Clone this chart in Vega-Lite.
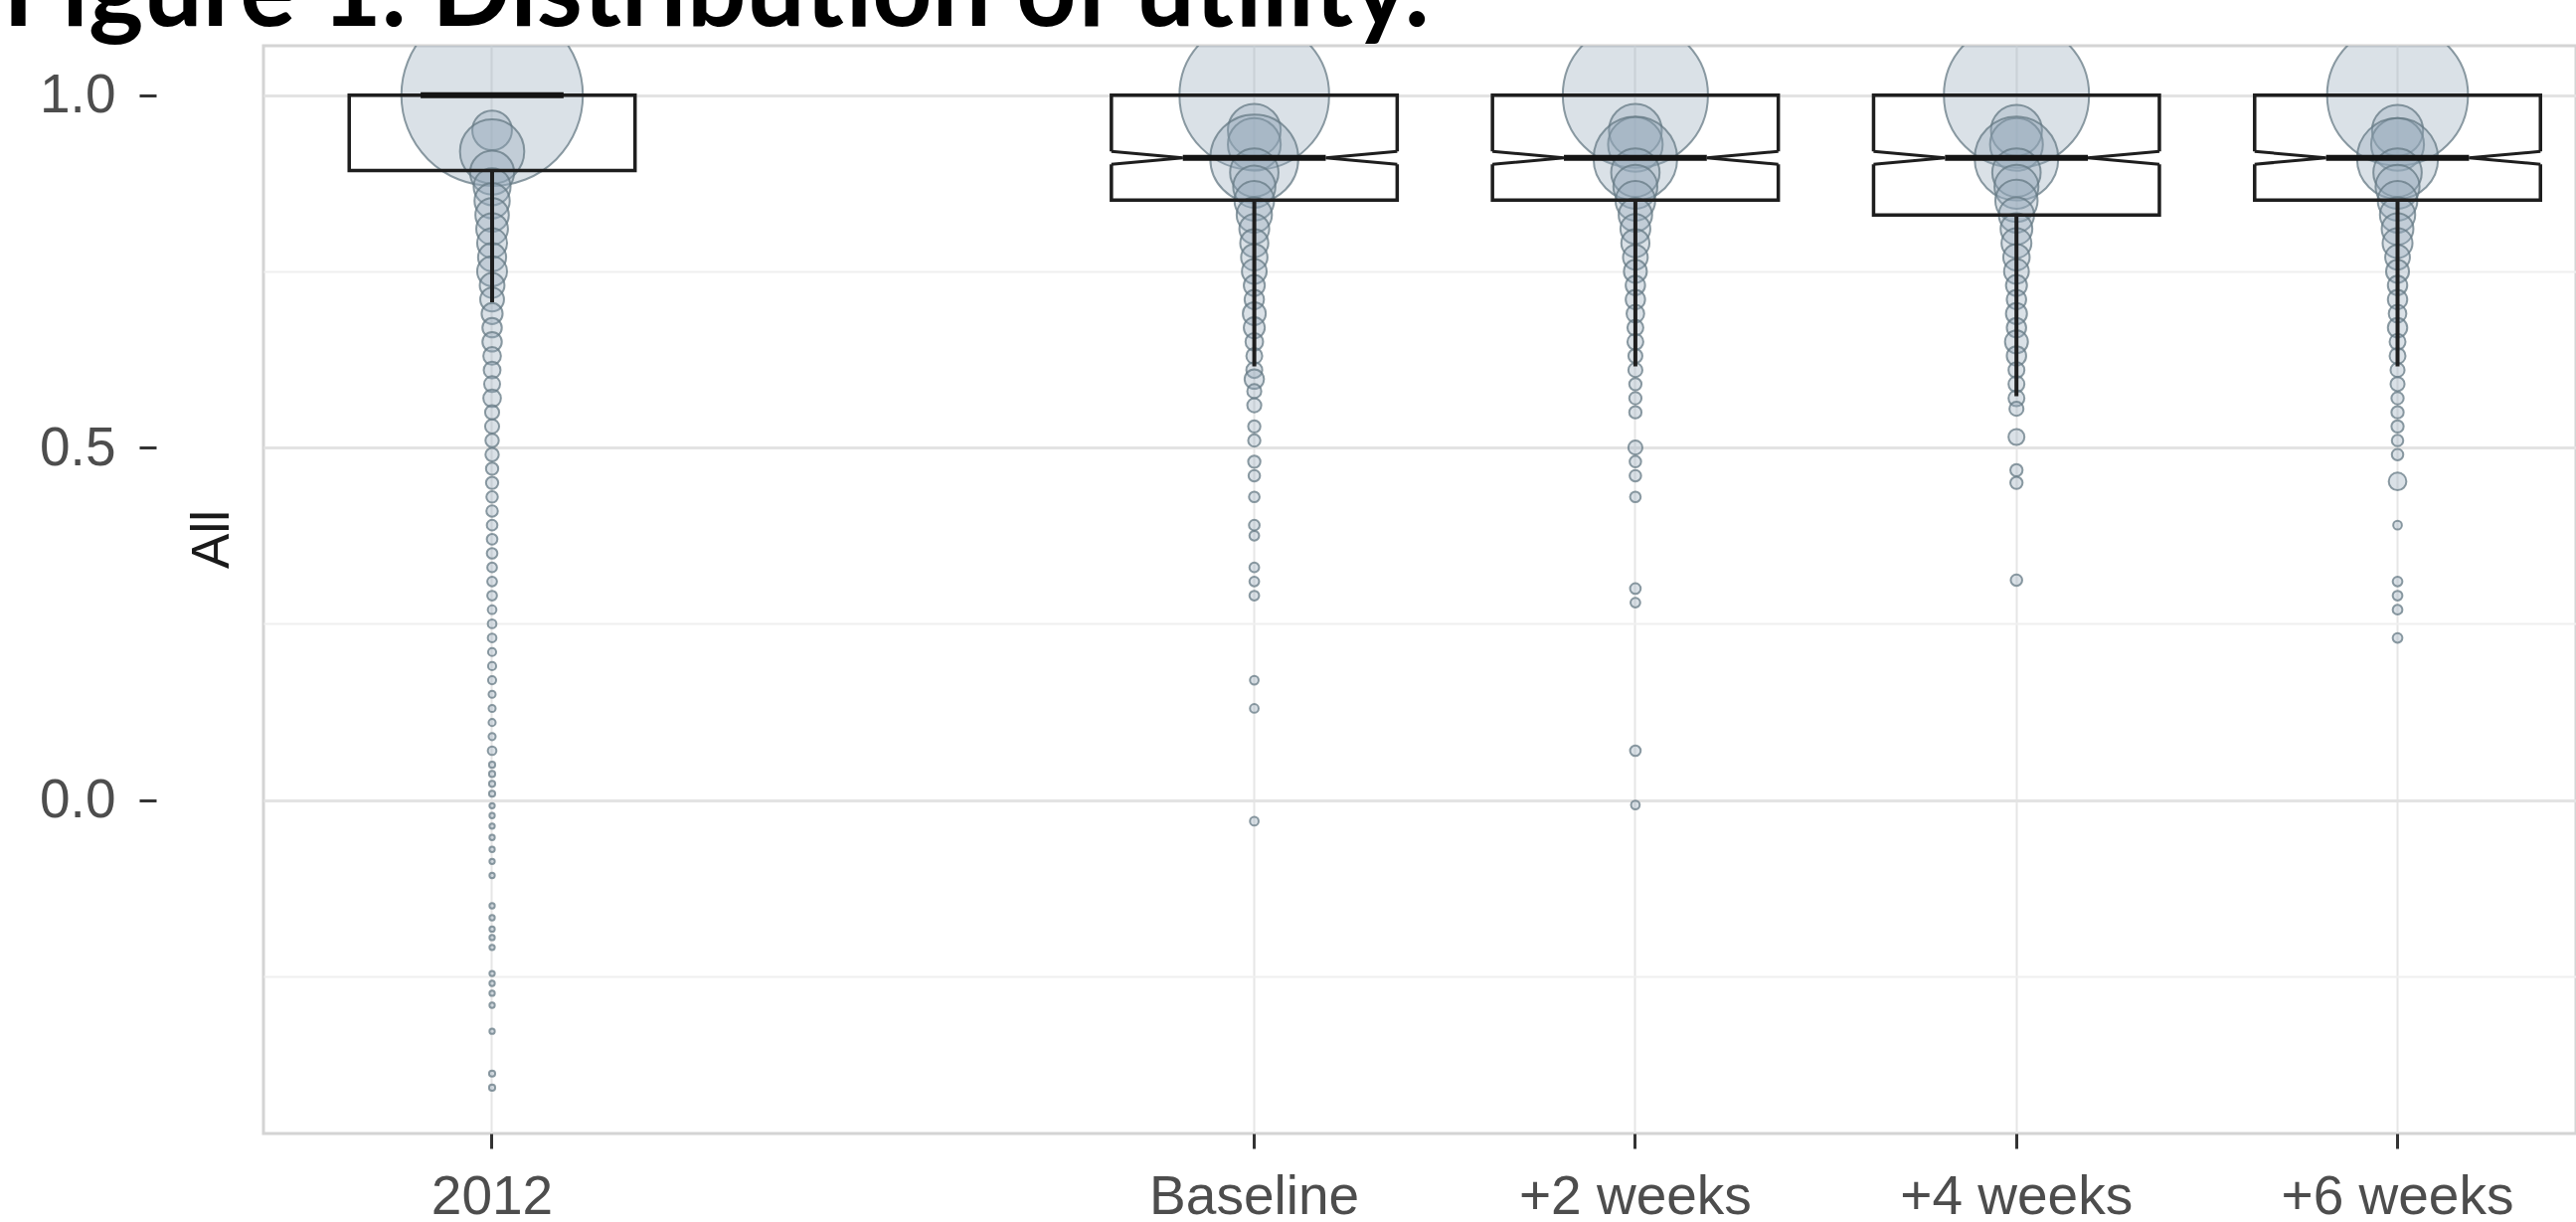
{
  "$schema": "https://vega.github.io/schema/vega-lite/v6.json",
  "width": 2326,
  "height": 1094,
  "autosize": {"type": "none"},
  "padding": {"left": 265, "top": 46, "right": 0, "bottom": 89},
  "background": "white",
  "config": {"view": {"stroke": "#d4d4d4", "strokeWidth": 3}, "font": "Liberation Sans"},
  "title": {
    "text": "Figure 1. Distribution of utility.",
    "anchor": "start",
    "frame": "group",
    "font": "Lato",
    "fontSize": 105,
    "fontWeight": "bold",
    "color": "#000000",
    "baseline": "alphabetic",
    "offset": 25,
    "dx": -262,
    "dy": 110
  },
  "datasets": {
    "pts": [
      {"group": "2012", "utility": 1.0, "prop": 0.35},
      {"group": "2012", "utility": 0.95, "prop": 0.0167},
      {"group": "2012", "utility": 0.92, "prop": 0.0439},
      {"group": "2012", "utility": 0.89, "prop": 0.0206},
      {"group": "2012", "utility": 0.87, "prop": 0.0145},
      {"group": "2012", "utility": 0.85, "prop": 0.0132},
      {"group": "2012", "utility": 0.83, "prop": 0.0119},
      {"group": "2012", "utility": 0.81, "prop": 0.0107},
      {"group": "2012", "utility": 0.79, "prop": 0.0095},
      {"group": "2012", "utility": 0.77, "prop": 0.0084},
      {"group": "2012", "utility": 0.75, "prop": 0.0095},
      {"group": "2012", "utility": 0.73, "prop": 0.0065},
      {"group": "2012", "utility": 0.71, "prop": 0.006},
      {"group": "2012", "utility": 0.69, "prop": 0.0047},
      {"group": "2012", "utility": 0.67, "prop": 0.004},
      {"group": "2012", "utility": 0.65, "prop": 0.004},
      {"group": "2012", "utility": 0.63, "prop": 0.0033},
      {"group": "2012", "utility": 0.61, "prop": 0.003},
      {"group": "2012", "utility": 0.59, "prop": 0.0027},
      {"group": "2012", "utility": 0.57, "prop": 0.0033},
      {"group": "2012", "utility": 0.55, "prop": 0.0021},
      {"group": "2012", "utility": 0.53, "prop": 0.0021},
      {"group": "2012", "utility": 0.51, "prop": 0.0019},
      {"group": "2012", "utility": 0.49, "prop": 0.0019},
      {"group": "2012", "utility": 0.47, "prop": 0.0016},
      {"group": "2012", "utility": 0.45, "prop": 0.0016},
      {"group": "2012", "utility": 0.43, "prop": 0.0014},
      {"group": "2012", "utility": 0.41, "prop": 0.0014},
      {"group": "2012", "utility": 0.39, "prop": 0.0012},
      {"group": "2012", "utility": 0.37, "prop": 0.0012},
      {"group": "2012", "utility": 0.35, "prop": 0.0012},
      {"group": "2012", "utility": 0.33, "prop": 0.001},
      {"group": "2012", "utility": 0.31, "prop": 0.001},
      {"group": "2012", "utility": 0.29, "prop": 0.001},
      {"group": "2012", "utility": 0.27, "prop": 0.0008},
      {"group": "2012", "utility": 0.25, "prop": 0.0008},
      {"group": "2012", "utility": 0.23, "prop": 0.0008},
      {"group": "2012", "utility": 0.21, "prop": 0.0007},
      {"group": "2012", "utility": 0.19, "prop": 0.0007},
      {"group": "2012", "utility": 0.17, "prop": 0.0007},
      {"group": "2012", "utility": 0.15, "prop": 0.00053},
      {"group": "2012", "utility": 0.13, "prop": 0.00053},
      {"group": "2012", "utility": 0.11, "prop": 0.00053},
      {"group": "2012", "utility": 0.09, "prop": 0.00053},
      {"group": "2012", "utility": 0.07, "prop": 0.0008},
      {"group": "2012", "utility": 0.05, "prop": 0.0004},
      {"group": "2012", "utility": 0.037, "prop": 0.0004},
      {"group": "2012", "utility": 0.023, "prop": 0.0004},
      {"group": "2012", "utility": 0.009, "prop": 0.0004},
      {"group": "2012", "utility": -0.008, "prop": 0.0003},
      {"group": "2012", "utility": -0.022, "prop": 0.0003},
      {"group": "2012", "utility": -0.037, "prop": 0.0003},
      {"group": "2012", "utility": -0.053, "prop": 0.0003},
      {"group": "2012", "utility": -0.07, "prop": 0.0003},
      {"group": "2012", "utility": -0.087, "prop": 0.0003},
      {"group": "2012", "utility": -0.107, "prop": 0.0003},
      {"group": "2012", "utility": -0.15, "prop": 0.0003},
      {"group": "2012", "utility": -0.167, "prop": 0.0003},
      {"group": "2012", "utility": -0.183, "prop": 0.0003},
      {"group": "2012", "utility": -0.195, "prop": 0.0003},
      {"group": "2012", "utility": -0.209, "prop": 0.0003},
      {"group": "2012", "utility": -0.246, "prop": 0.0003},
      {"group": "2012", "utility": -0.26, "prop": 0.0003},
      {"group": "2012", "utility": -0.274, "prop": 0.0003},
      {"group": "2012", "utility": -0.291, "prop": 0.0003},
      {"group": "2012", "utility": -0.328, "prop": 0.0003},
      {"group": "2012", "utility": -0.388, "prop": 0.0004},
      {"group": "2012", "utility": -0.408, "prop": 0.0004},

      {"group": "Baseline", "utility": 1.0, "prop": 0.238},
      {"group": "Baseline", "utility": 0.95, "prop": 0.0297},
      {"group": "Baseline", "utility": 0.93, "prop": 0.0297},
      {"group": "Baseline", "utility": 0.91, "prop": 0.0824},
      {"group": "Baseline", "utility": 0.89, "prop": 0.0249},
      {"group": "Baseline", "utility": 0.87, "prop": 0.019},
      {"group": "Baseline", "utility": 0.85, "prop": 0.0167},
      {"group": "Baseline", "utility": 0.83, "prop": 0.0132},
      {"group": "Baseline", "utility": 0.81, "prop": 0.0095},
      {"group": "Baseline", "utility": 0.79, "prop": 0.0084},
      {"group": "Baseline", "utility": 0.77, "prop": 0.0074},
      {"group": "Baseline", "utility": 0.75, "prop": 0.0065},
      {"group": "Baseline", "utility": 0.73, "prop": 0.0047},
      {"group": "Baseline", "utility": 0.71, "prop": 0.004},
      {"group": "Baseline", "utility": 0.69, "prop": 0.0056},
      {"group": "Baseline", "utility": 0.67, "prop": 0.0047},
      {"group": "Baseline", "utility": 0.65, "prop": 0.0033},
      {"group": "Baseline", "utility": 0.63, "prop": 0.0027},
      {"group": "Baseline", "utility": 0.61, "prop": 0.0027},
      {"group": "Baseline", "utility": 0.597, "prop": 0.004},
      {"group": "Baseline", "utility": 0.58, "prop": 0.0021},
      {"group": "Baseline", "utility": 0.56, "prop": 0.0021},
      {"group": "Baseline", "utility": 0.53, "prop": 0.0016},
      {"group": "Baseline", "utility": 0.51, "prop": 0.0016},
      {"group": "Baseline", "utility": 0.48, "prop": 0.0016},
      {"group": "Baseline", "utility": 0.46, "prop": 0.0014},
      {"group": "Baseline", "utility": 0.43, "prop": 0.0012},
      {"group": "Baseline", "utility": 0.39, "prop": 0.0012},
      {"group": "Baseline", "utility": 0.375, "prop": 0.001},
      {"group": "Baseline", "utility": 0.33, "prop": 0.001},
      {"group": "Baseline", "utility": 0.31, "prop": 0.001},
      {"group": "Baseline", "utility": 0.29, "prop": 0.001},
      {"group": "Baseline", "utility": 0.17, "prop": 0.0008},
      {"group": "Baseline", "utility": 0.13, "prop": 0.0008},
      {"group": "Baseline", "utility": -0.03, "prop": 0.0008},

      {"group": "+2 weeks", "utility": 1.0, "prop": 0.224},
      {"group": "+2 weeks", "utility": 0.95, "prop": 0.0297},
      {"group": "+2 weeks", "utility": 0.93, "prop": 0.0317},
      {"group": "+2 weeks", "utility": 0.91, "prop": 0.0744},
      {"group": "+2 weeks", "utility": 0.89, "prop": 0.0249},
      {"group": "+2 weeks", "utility": 0.87, "prop": 0.0206},
      {"group": "+2 weeks", "utility": 0.85, "prop": 0.0167},
      {"group": "+2 weeks", "utility": 0.83, "prop": 0.0119},
      {"group": "+2 weeks", "utility": 0.81, "prop": 0.0095},
      {"group": "+2 weeks", "utility": 0.79, "prop": 0.0084},
      {"group": "+2 weeks", "utility": 0.77, "prop": 0.0065},
      {"group": "+2 weeks", "utility": 0.75, "prop": 0.0056},
      {"group": "+2 weeks", "utility": 0.73, "prop": 0.004},
      {"group": "+2 weeks", "utility": 0.71, "prop": 0.004},
      {"group": "+2 weeks", "utility": 0.69, "prop": 0.0033},
      {"group": "+2 weeks", "utility": 0.67, "prop": 0.0027},
      {"group": "+2 weeks", "utility": 0.65, "prop": 0.0027},
      {"group": "+2 weeks", "utility": 0.63, "prop": 0.0021},
      {"group": "+2 weeks", "utility": 0.61, "prop": 0.0021},
      {"group": "+2 weeks", "utility": 0.59, "prop": 0.0016},
      {"group": "+2 weeks", "utility": 0.57, "prop": 0.0016},
      {"group": "+2 weeks", "utility": 0.55, "prop": 0.0016},
      {"group": "+2 weeks", "utility": 0.5, "prop": 0.0021},
      {"group": "+2 weeks", "utility": 0.48, "prop": 0.0014},
      {"group": "+2 weeks", "utility": 0.46, "prop": 0.0014},
      {"group": "+2 weeks", "utility": 0.43, "prop": 0.0012},
      {"group": "+2 weeks", "utility": 0.3, "prop": 0.0012},
      {"group": "+2 weeks", "utility": 0.28, "prop": 0.001},
      {"group": "+2 weeks", "utility": 0.07, "prop": 0.0012},
      {"group": "+2 weeks", "utility": -0.007, "prop": 0.0008},

      {"group": "+4 weeks", "utility": 1.0, "prop": 0.224},
      {"group": "+4 weeks", "utility": 0.95, "prop": 0.0277},
      {"group": "+4 weeks", "utility": 0.93, "prop": 0.0297},
      {"group": "+4 weeks", "utility": 0.91, "prop": 0.0744},
      {"group": "+4 weeks", "utility": 0.89, "prop": 0.0249},
      {"group": "+4 weeks", "utility": 0.87, "prop": 0.0206},
      {"group": "+4 weeks", "utility": 0.85, "prop": 0.019},
      {"group": "+4 weeks", "utility": 0.83, "prop": 0.0132},
      {"group": "+4 weeks", "utility": 0.81, "prop": 0.0107},
      {"group": "+4 weeks", "utility": 0.79, "prop": 0.0095},
      {"group": "+4 weeks", "utility": 0.77, "prop": 0.0074},
      {"group": "+4 weeks", "utility": 0.75, "prop": 0.0065},
      {"group": "+4 weeks", "utility": 0.73, "prop": 0.0047},
      {"group": "+4 weeks", "utility": 0.71, "prop": 0.004},
      {"group": "+4 weeks", "utility": 0.69, "prop": 0.0047},
      {"group": "+4 weeks", "utility": 0.67, "prop": 0.004},
      {"group": "+4 weeks", "utility": 0.65, "prop": 0.0056},
      {"group": "+4 weeks", "utility": 0.63, "prop": 0.004},
      {"group": "+4 weeks", "utility": 0.61, "prop": 0.0027},
      {"group": "+4 weeks", "utility": 0.59, "prop": 0.0027},
      {"group": "+4 weeks", "utility": 0.57, "prop": 0.0027},
      {"group": "+4 weeks", "utility": 0.555, "prop": 0.0021},
      {"group": "+4 weeks", "utility": 0.515, "prop": 0.0027},
      {"group": "+4 weeks", "utility": 0.468, "prop": 0.0016},
      {"group": "+4 weeks", "utility": 0.45, "prop": 0.0016},
      {"group": "+4 weeks", "utility": 0.312, "prop": 0.0014},

      {"group": "+6 weeks", "utility": 1.0, "prop": 0.211},
      {"group": "+6 weeks", "utility": 0.95, "prop": 0.0277},
      {"group": "+6 weeks", "utility": 0.93, "prop": 0.0297},
      {"group": "+6 weeks", "utility": 0.91, "prop": 0.0698},
      {"group": "+6 weeks", "utility": 0.89, "prop": 0.0249},
      {"group": "+6 weeks", "utility": 0.87, "prop": 0.0206},
      {"group": "+6 weeks", "utility": 0.85, "prop": 0.0167},
      {"group": "+6 weeks", "utility": 0.83, "prop": 0.0132},
      {"group": "+6 weeks", "utility": 0.81, "prop": 0.0107},
      {"group": "+6 weeks", "utility": 0.79, "prop": 0.0095},
      {"group": "+6 weeks", "utility": 0.77, "prop": 0.0065},
      {"group": "+6 weeks", "utility": 0.75, "prop": 0.0056},
      {"group": "+6 weeks", "utility": 0.73, "prop": 0.004},
      {"group": "+6 weeks", "utility": 0.71, "prop": 0.004},
      {"group": "+6 weeks", "utility": 0.69, "prop": 0.0033},
      {"group": "+6 weeks", "utility": 0.67, "prop": 0.004},
      {"group": "+6 weeks", "utility": 0.65, "prop": 0.0027},
      {"group": "+6 weeks", "utility": 0.63, "prop": 0.0027},
      {"group": "+6 weeks", "utility": 0.61, "prop": 0.0021},
      {"group": "+6 weeks", "utility": 0.59, "prop": 0.0021},
      {"group": "+6 weeks", "utility": 0.57, "prop": 0.0016},
      {"group": "+6 weeks", "utility": 0.55, "prop": 0.0016},
      {"group": "+6 weeks", "utility": 0.53, "prop": 0.0016},
      {"group": "+6 weeks", "utility": 0.51, "prop": 0.0014},
      {"group": "+6 weeks", "utility": 0.49, "prop": 0.0014},
      {"group": "+6 weeks", "utility": 0.452, "prop": 0.0033},
      {"group": "+6 weeks", "utility": 0.39, "prop": 0.0008},
      {"group": "+6 weeks", "utility": 0.31, "prop": 0.001},
      {"group": "+6 weeks", "utility": 0.29, "prop": 0.001},
      {"group": "+6 weeks", "utility": 0.27, "prop": 0.001},
      {"group": "+6 weeks", "utility": 0.23, "prop": 0.001}
    ],
    "box": [
      {"group": "2012", "lower": 0.706, "q1": 0.893, "median": 1.0, "q3": 1.0},
      {"group": "Baseline", "lower": 0.615, "q1": 0.851, "median": 0.911, "q3": 1.0},
      {"group": "+2 weeks", "lower": 0.615, "q1": 0.851, "median": 0.911, "q3": 1.0},
      {"group": "+4 weeks", "lower": 0.573, "q1": 0.83, "median": 0.911, "q3": 1.0},
      {"group": "+6 weeks", "lower": 0.615, "q1": 0.851, "median": 0.911, "q3": 1.0}
    ]
  },
  "encoding": {
    "x": {
      "field": "group",
      "type": "nominal",
      "scale": {
        "type": "band",
        "domain": ["2012", " ", "Baseline", "+2 weeks", "+4 weeks", "+6 weeks"],
        "range": [0, 2376.5],
        "paddingInner": 0,
        "paddingOuter": 0.1
      },
      "axis": {
        "title": null,
        "values": ["2012", "Baseline", "+2 weeks", "+4 weeks", "+6 weeks"],
        "bandPosition": 0.5,
        "domain": false,
        "grid": true,
        "gridColor": "#e6e6e6",
        "gridWidth": 2,
        "ticks": true,
        "tickColor": "#333333",
        "tickWidth": 3,
        "tickSize": 15,
        "labelAngle": 0,
        "labelFontSize": 55,
        "labelLimit": 600,
        "labelColor": "#4d4d4d",
        "labelPadding": 22
      }
    }
  },
  "layer": [
    {
      "data": {"name": "pts"},
      "mark": {"type": "circle", "clip": true, "fill": "#94aab9", "fillOpacity": 0.35, "stroke": "#667984", "strokeOpacity": 0.75, "strokeWidth": 2, "opacity": 1},
      "encoding": {
        "y": {
          "field": "utility",
          "type": "quantitative",
          "scale": {"domain": [-0.473, 1.07], "nice": false, "zero": false},
          "axis": {
            "values": [-0.25, 0, 0.25, 0.5, 0.75, 1],
            "format": ".1f",
            "labelExpr": "abs(datum.value % 0.5) < 0.001 ? datum.label : ''",
            "offset": 108,
            "domain": false,
            "grid": true,
            "gridColor": {"condition": {"test": "abs(datum.value % 0.5) < 0.001", "value": "#e3e3e3"}, "value": "#efefef"},
            "gridWidth": {"condition": {"test": "abs(datum.value % 0.5) < 0.001", "value": 3}, "value": 2},
            "tickColor": {"condition": {"test": "abs(datum.value % 0.5) < 0.001", "value": "#333333"}, "value": "transparent"},
            "tickSize": 17,
            "tickWidth": 3,
            "labelFontSize": 55,
            "labelColor": "#4d4d4d",
            "labelPadding": 24,
            "title": "All",
            "titleFontSize": 53,
            "titleFontWeight": "normal",
            "titleColor": "#1a1a1a",
            "titleX": 56,
            "titleY": 496,
            "titleAngle": 270,
            "titleAlign": "center",
            "titleBaseline": "middle"
          }
        },
        "size": {"field": "prop", "type": "quantitative", "scale": {"domain": [0, 0.35], "range": [0, 33329]}, "legend": null}
      }
    },
    {
      "data": {"name": "box"},
      "mark": {"type": "rule", "color": "#1e1e1e", "strokeWidth": 4},
      "encoding": {
        "y": {"field": "lower", "type": "quantitative"},
        "y2": {"field": "q1"}
      }
    },
    {
      "data": {"name": "box"},
      "mark": {"type": "bar", "width": {"band": 0.75}, "fill": "transparent", "stroke": "#1e1e1e", "strokeWidth": 3.5},
      "encoding": {
        "y": {"field": "q1", "type": "quantitative"},
        "y2": {"field": "q3"}
      }
    },
    {
      "data": {"name": "box"},
      "transform": [{"filter": "datum.group != '2012'"}],
      "mark": {"type": "point", "shape": "M -1.06 -0.045 L -1 -0.045 L -0.5 0 L -1 0.045 L -1.06 0.045 Z M 1.06 -0.045 L 1 -0.045 L 0.5 0 L 1 0.045 L 1.06 0.045 Z", "size": 82656, "filled": true, "color": "#ffffff", "strokeWidth": 0, "opacity": 1},
      "encoding": {
        "y": {"field": "median", "type": "quantitative"}
      }
    },
    {
      "data": {"name": "box"},
      "transform": [{"filter": "datum.group != '2012'"}],
      "mark": {"type": "point", "shape": "M -1 -0.045 L -0.5 0 L -1 0.045 M 1 -0.045 L 0.5 0 L 1 0.045", "size": 82656, "filled": false, "color": "#1e1e1e", "strokeWidth": 3, "opacity": 1},
      "encoding": {
        "y": {"field": "median", "type": "quantitative"}
      }
    },
    {
      "data": {"name": "box"},
      "mark": {"type": "tick", "size": 143.75, "thickness": 6, "color": "#141414", "opacity": 1, "orient": "horizontal"},
      "encoding": {
        "y": {"field": "median", "type": "quantitative"}
      }
    }
  ]
}
